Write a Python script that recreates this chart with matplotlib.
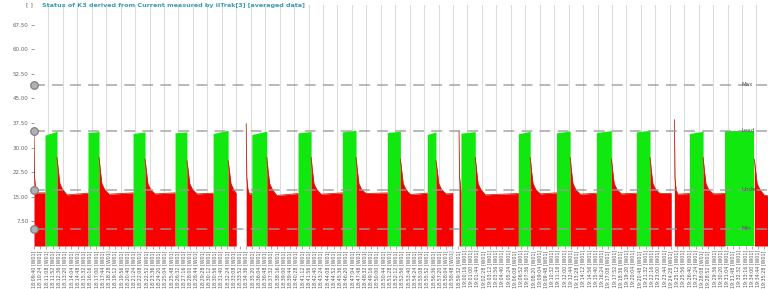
import numpy as np
import matplotlib.pyplot as plt

# ---- data (x in tick slots, y in amps) ----
green_start = [1.76, 8.65, 15.87, 22.6, 28.7, 34.9, 42.3, 49.4, 56.6, 63.0,
               68.4, 77.6, 83.7, 90.1, 96.5, 105.0, 110.7]
green_end = [3.69, 10.42, 17.79, 24.5, 31.1, 37.3, 44.4, 51.6, 58.7, 64.4,
             70.7, 79.5, 85.9, 92.5, 98.7, 107.2, 115.4]
green_top_l = [33.8, 34.6, 34.3, 34.5, 34.3, 34.0, 34.5, 34.8, 34.6, 34.0,
               34.4, 34.2, 34.5, 34.6, 34.8, 34.3, 35.0]
green_top_r = [35.0, 34.9, 34.8, 34.8, 35.3, 35.0, 34.9, 35.3, 35.0, 34.8,
               34.9, 35.0, 35.1, 35.2, 35.3, 35.0, 35.0]

red_start = [0.0, 3.69, 10.42, 17.79, 24.5, 31.1, 34.0, 37.3, 44.4, 51.6,
             58.7, 64.4, 68.1, 70.7, 79.5, 85.9, 92.5, 98.7, 102.6, 107.2, 115.4]
red_end = [1.76, 8.65, 15.87, 22.6, 28.7, 32.4, 34.9, 42.3, 49.4, 56.6,
           63.0, 67.1, 68.4, 77.6, 83.7, 90.1, 96.5, 102.1, 105.0, 110.7, 117.6]
red_kind = ['spike', 'tail', 'tail', 'tail', 'tail', 'tail', 'spike', 'tail', 'tail', 'tail',
            'tail', 'tail', 'spike', 'tail', 'tail', 'tail', 'tail', 'tail', 'spike', 'tail', 'tail']
red_peak = [35.0, 27.0, 27.0, 26.5, 26.0, 26.0, 37.3, 27.0, 27.0, 27.0,
            26.5, 26.0, 35.1, 27.0, 27.0, 27.0, 26.5, 27.0, 38.5, 27.0, 26.5]
red_base = [16.2, 15.6, 15.8, 15.9, 15.9, 16.0, 15.8, 15.4, 15.8, 16.0,
            15.7, 15.9, 16.0, 15.6, 15.9, 15.8, 15.9, 16.0, 15.8, 15.9, 15.5]
red_last = [16.2, 16.1, 16.2, 16.2, 16.1, 16.0, 16.0, 16.0, 16.2, 16.2,
            16.1, 16.0, 16.0, 16.0, 16.2, 16.1, 16.1, 16.0, 16.0, 16.0, 15.3]

# decay shape after a load block / after a spike
tail_dx = [0.2, 0.45, 0.9, 1.6]
tail_y = [23.0, 19.0, 17.2]
spike_dx = [0.08, 0.25, 0.5]
spike_y = [21.0, 17.5]

levels = [49.2, 35.1, 17.1, 5.2]
level_names = ['Max', 'Load', 'Under', 'Min']

y_ticks = [7.5, 15.0, 22.5, 30.0, 37.5, 45.0, 52.5, 60.0, 67.5]

n_labels = 118
t0 = 18 * 3600 + 9 * 60 + 40
step = 44
x_labels = []
for i in range(n_labels):
    s = t0 + i * step
    x_labels.append('%02d:%02d:%02d [W01]' % (s // 3600, (s // 60) % 60, s % 60))

RED = '#f80000'
GREEN = '#10e810'
EDGE = '#c02810'


def red_run(i):
    x0, x1 = red_start[i], red_end[i]
    if red_kind[i] == 'tail':
        dx, dy = tail_dx, tail_y
    else:
        dx, dy = spike_dx, spike_y
    xs = [x0]
    ys = [red_peak[i]]
    for d, v in zip(dx[:-1], dy):
        if x0 + d < x1:
            xs.append(x0 + d)
            ys.append(v)
    if x0 + dx[-1] < x1:
        xs.append(x0 + dx[-1])
        ys.append(red_base[i])
    xs.append(x1)
    ys.append(red_last[i])
    return np.array(xs), np.array(ys)


fig = plt.figure(figsize=(7.68, 2.89), dpi=100)
ax = fig.add_axes([34 / 768, 1 - 246 / 289, 734 / 768, 241 / 289])

for i in range(len(green_start)):
    ax.fill_between([green_start[i], green_end[i]], 0,
                    [green_top_l[i], green_top_r[i]],
                    color=GREEN, lw=0, zorder=2)

for i in range(len(red_start)):
    xs, ys = red_run(i)
    ax.fill_between(xs, 0, ys, color=RED, lw=0, zorder=2)
    ax.plot(xs, ys, color=EDGE, lw=0.6, zorder=3)

x_max = 117.6
for lv, name in zip(levels, level_names):
    ax.axhline(lv, color='#9a9a9a', lw=1.3, ls=(0, (6, 4)), alpha=0.75, zorder=4)
    ax.plot([0], [lv], 'o', ms=5.5, mfc='#b0b0b0', mec='#7a7a7a', mew=0.8,
            clip_on=False, zorder=5)
    ax.text(113.4, lv, name, fontsize=4, color='#555555', va='center', zorder=6)

ax.set_xlim(0, x_max)
ax.set_ylim(0, 73.5)

ax.set_xticks(np.arange(n_labels))
ax.set_xticklabels(x_labels, rotation=90, fontsize=3.4, color='#555555')
ax.set_xticks(np.arange(0, x_max, 2.315), minor=True)
ax.tick_params(axis='x', which='major', length=2, width=0.5, color='#888888', pad=1)
ax.tick_params(axis='x', which='minor', length=0)
ax.grid(axis='x', which='minor', color='#dcdcdc', lw=0.8, zorder=0)
ax.set_axisbelow(True)

ax.set_yticks(y_ticks)
ax.set_yticklabels(['%.2f' % v for v in y_ticks], fontsize=4, color='#666666')
ax.tick_params(axis='y', length=2, width=0.6, color='#888888', pad=2)

for sp in ax.spines.values():
    sp.set_visible(False)

fig.text(26 / 768, 1 - 5 / 289, '[ ]', fontsize=4.5, color='#666666', va='center')
fig.text(42 / 768, 1 - 5 / 289,
         'Status of K3 derived from Current measured by iiTrak[3] [averaged data]',
         fontsize=4.6, color='#3a9cb4', fontweight='bold', va='center')

fig.savefig('out.png', dpi=100)
